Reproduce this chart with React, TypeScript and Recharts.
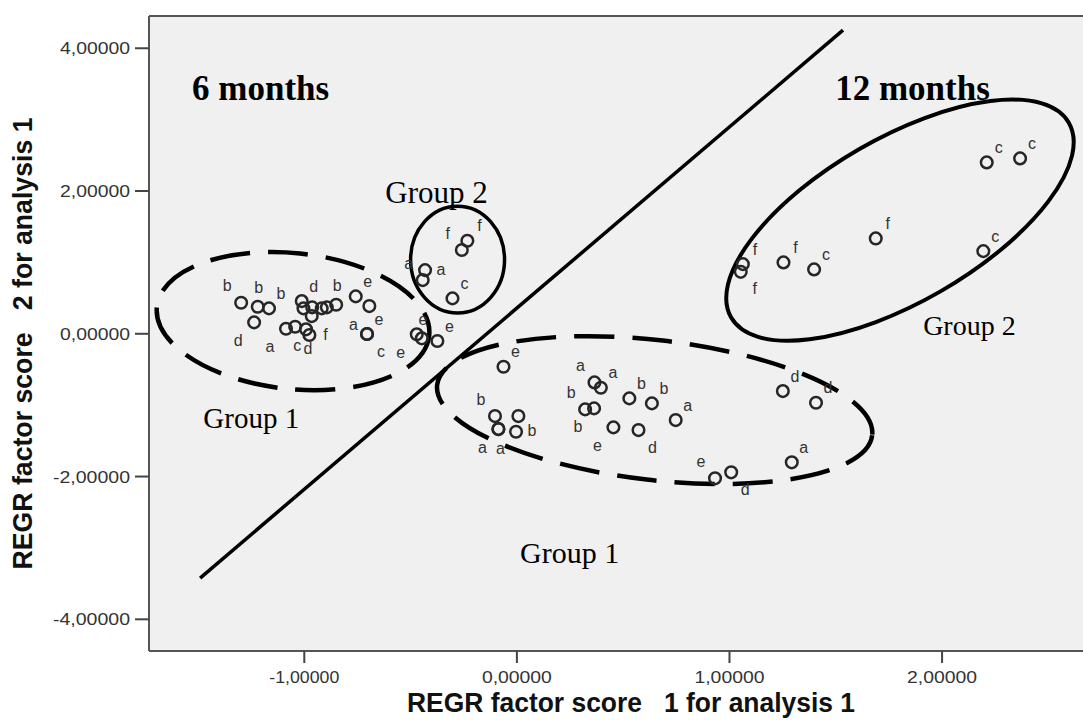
import React from 'react';
import {
  ScatterChart,
  Scatter,
  XAxis,
  YAxis,
  CartesianGrid,
  ReferenceLine,
  ReferenceArea,
  ReferenceDot,
} from 'recharts';

// Axis ranges and ticks (factor scores)
const X_DOMAIN: [number, number] = [-1.7305, 2.804];
const Y_DOMAIN: [number, number] = [-4.444, 4.452];
const X_TICKS = [-1, 0, 1, 2];
const Y_TICKS = [-4, -2, 0, 2, 4];

const X_TITLE = 'REGR factor score   1 for analysis 1';
const Y_TITLE = 'REGR factor score   2 for analysis 1';

// [score 1, score 2, case letter]
type Pt = [number, number, string];

const SIX_MONTHS_GROUP_1: Pt[] = [
  [-1.297, 0.434, 'b'],
  [-1.219, 0.378, 'b'],
  [-1.166, 0.356, 'b'],
  [-1.236, 0.16, 'd'],
  [-1.012, 0.458, 'd'],
  [-1.004, 0.356, ''],
  [-0.963, 0.37, ''],
  [-0.918, 0.356, ''],
  [-0.894, 0.37, ''],
  [-0.85, 0.406, 'b'],
  [-0.965, 0.248, ''],
  [-1.086, 0.07, 'a'],
  [-1.043, 0.098, 'c'],
  [-0.992, 0.062, 'd'],
  [-0.976, -0.018, 'f'],
  [-0.758, 0.524, 'e'],
  [-0.694, 0.388, 'a'],
  [-0.705, -0.004, 'e'],
  [-0.705, -0.004, 'c'],
  [-0.471, -0.008, 'e'],
  [-0.447, -0.064, 'e'],
  [-0.374, -0.102, 'e'],
];
const SIX_MONTHS_GROUP_1_TAGS = [
  'nw', 'n', 'ne', 'sw', 'ne', '', '', '', '', 'n', '', 'sw', 's', 's', 'e', 'ne', 'sw', 'ne', 'se', 'sw', 'n', 'ne',
];

const SIX_MONTHS_GROUP_2: Pt[] = [
  [-0.432, 0.892, 'a'],
  [-0.443, 0.752, 'a'],
  [-0.259, 1.173, 'f'],
  [-0.233, 1.303, 'f'],
  [-0.303, 0.496, 'c'],
];
const SIX_MONTHS_GROUP_2_TAGS = ['e', 'nw', 'nw', 'ne', 'ne'];

const TWELVE_MONTHS_GROUP_1: Pt[] = [
  [-0.063, -0.462, 'e'],
  [-0.103, -1.153, 'b'],
  [0.007, -1.153, ''],
  [-0.087, -1.335, 'a'],
  [-0.087, -1.335, 'a'],
  [-0.004, -1.373, 'b'],
  [0.365, -0.681, 'a'],
  [0.395, -0.756, 'a'],
  [0.321, -1.059, 'b'],
  [0.363, -1.045, 'b'],
  [0.529, -0.905, 'b'],
  [0.635, -0.975, 'b'],
  [0.454, -1.311, 'e'],
  [0.572, -1.349, 'd'],
  [0.747, -1.209, 'a'],
  [0.932, -2.025, 'e'],
  [1.008, -1.941, 'd'],
  [1.251, -0.803, 'd'],
  [1.407, -0.966, 'd'],
  [1.293, -1.801, 'a'],
];
const TWELVE_MONTHS_GROUP_1_TAGS = [
  'ne', 'nw', '', 'sw', 's', 'e', 'nw', 'ne', 'nw', 'sw', 'ne', 'ne', 'sw', 'se', 'ne', 'nw', 'se', 'ne', 'ne', 'ne',
];

const TWELVE_MONTHS_GROUP_2: Pt[] = [
  [1.063, 0.976, 'f'],
  [1.053, 0.868, 'f'],
  [1.254, 1.0, 'f'],
  [1.398, 0.902, 'c'],
  [1.688, 1.336, 'f'],
  [2.194, 1.158, 'c'],
  [2.21, 2.401, 'c'],
  [2.367, 2.457, 'c'],
];
const TWELVE_MONTHS_GROUP_2_TAGS = ['ne', 'se', 'ne', 'ne', 'ne', 'ne', 'ne', 'ne'];

// Separating line between the 6 and 12 month scores
const DIVIDER = [
  { x: -1.49, y: -3.422 },
  { x: 1.534, y: 4.254 },
];

// Group outlines: centre and half extents in score units, tilt in degrees
const RING_SIX_G1 = { cx: -1.053, cy: 0.178, hx: 0.644, hy: 0.952, tilt: 6 };
const RING_SIX_G2 = { cx: -0.279, cy: 1.039, hx: 0.221, hy: 0.749, tilt: 0 };
const RING_TWELVE_G1 = { cx: 0.648, cy: -1.069, hx: 1.03, hy: 0.98, tilt: 6.6 };
const RING_TWELVE_G2 = { cx: 1.802, cy: 1.592, hx: 0.917, hy: 1.148, tilt: -30 };

// Annotation texts, anchored at their left baseline
const NOTES = [
  { x: -1.528, y: 3.273, text: '6 months' },
  { x: 1.497, y: 3.273, text: '12 months' },
  { x: -0.619, y: 1.831, text: 'Group 2' },
  { x: -1.475, y: -1.321, text: 'Group 1' },
  { x: 0.015, y: -3.211, text: 'Group 1' },
  { x: 1.911, y: -0.018, text: 'Group 2' },
];
const NOTE_FONT = [
  { size: 35, bold: true },
  { size: 35, bold: true },
  { size: 31, bold: false },
  { size: 29, bold: false },
  { size: 30, bold: false },
  { size: 28, bold: false },
];

const SIDE_OFFSETS: Record<string, [number, number]> = {
  ne: [12, -15],
  n: [1, -19],
  nw: [-14, -17],
  e: [16, -1],
  se: [14, 17],
  s: [2, 19],
  sw: [-16, 18],
};

const toRows = (pts: Pt[], tags: string[]) =>
  pts.map(([x, y, id], i) => ({ x, y, id, tag: tags[i] }));

const fmt = (v: number) => v.toFixed(5).replace('.', ',');

const SANS = '"Liberation Sans", Arial, sans-serif';
const SERIF = '"Liberation Serif", "Times New Roman", serif';

const Marker = (props: any) => {
  const { cx, cy, payload } = props;
  if (cx == null || cy == null) return null;
  const off = payload && payload.id ? SIDE_OFFSETS[payload.tag] : undefined;
  return (
    <g>
      <circle cx={cx} cy={cy} r={5.8} fill="none" stroke="#262626" strokeWidth={2.5} />
      {off ? (
        <text
          x={cx + off[0]}
          y={cy + off[1]}
          textAnchor="middle"
          dominantBaseline="central"
          fontFamily={SANS}
          fontSize={16}
          fill="#333"
        >
          {payload.id}
        </text>
      ) : null}
    </g>
  );
};

const ringShape = (tilt: number, dashed: boolean, sw: number) => (props: any) => {
  const { x, y, width, height } = props;
  const cx = x + width / 2;
  const cy = y + height / 2;
  return (
    <ellipse
      cx={cx}
      cy={cy}
      rx={Math.abs(width) / 2}
      ry={Math.abs(height) / 2}
      transform={`rotate(${tilt} ${cx} ${cy})`}
      fill="none"
      stroke="#000"
      strokeWidth={sw}
      strokeDasharray={dashed ? '40 18' : undefined}
    />
  );
};

const noteShape = (text: string, size: number, bold: boolean) => (props: any) => (
  <text
    x={props.cx}
    y={props.cy}
    fontFamily={SERIF}
    fontWeight={bold ? 'bold' : 'normal'}
    fontSize={size}
    fill="#000"
  >
    {text}
  </text>
);

// Tick labels, slightly widened like the original export
const XTick = (props: any) => {
  const { x, y, payload } = props;
  return (
    <text
      x={x}
      y={y}
      dy="0.71em"
      textAnchor="middle"
      fontFamily={SANS}
      fontSize={17}
      textLength={70}
      lengthAdjust="spacingAndGlyphs"
      fill="#333"
    >
      {fmt(payload.value)}
    </text>
  );
};

const YTick = (props: any) => {
  const { x, y, payload } = props;
  const label = fmt(payload.value);
  return (
    <text
      x={x}
      y={y}
      dy="0.355em"
      textAnchor="end"
      fontFamily={SANS}
      fontSize={17}
      textLength={label.length > 7 ? 77 : 70}
      lengthAdjust="spacingAndGlyphs"
      fill="#333"
    >
      {label}
    </text>
  );
};

const XTitle = (props: any) => {
  const vb = props.viewBox || {};
  return (
    <text
      x={vb.x + vb.width / 2}
      y={vb.y + 61}
      textAnchor="middle"
      fontFamily={SANS}
      fontWeight="bold"
      fontSize={27}
      textLength={448}
      lengthAdjust="spacingAndGlyphs"
      style={{ whiteSpace: 'pre' }}
      fill="#111"
    >
      {X_TITLE}
    </text>
  );
};

const YTitle = (props: any) => {
  const vb = props.viewBox || {};
  const cx = 23;
  const cy = vb.y + vb.height / 2 + 10;
  return (
    <text
      x={cx}
      y={cy}
      transform={`rotate(-90 ${cx} ${cy})`}
      textAnchor="middle"
      dominantBaseline="central"
      fontFamily={SANS}
      fontWeight="bold"
      fontSize={27}
      textLength={452}
      lengthAdjust="spacingAndGlyphs"
      style={{ whiteSpace: 'pre' }}
      fill="#111"
    >
      {Y_TITLE}
    </text>
  );
};

const rings = [
  { r: RING_SIX_G1, dashed: true, sw: 4.5 },
  { r: RING_SIX_G2, dashed: false, sw: 3.5 },
  { r: RING_TWELVE_G1, dashed: true, sw: 4.5 },
  { r: RING_TWELVE_G2, dashed: false, sw: 4 },
];

export default function App() {
  return (
    <div
      style={{
        position: 'absolute',
        left: 0,
        top: 0,
        width: 1083,
        height: 720,
        overflow: 'hidden',
        background: '#fff',
      }}
    >
      <ScatterChart width={1113} height={720} margin={{ top: 16, right: 0, bottom: 0, left: 0 }}>
        <CartesianGrid fill="#f0f0f0" stroke="none" horizontal={false} vertical={false} />
        <XAxis
          type="number"
          dataKey="x"
          domain={X_DOMAIN}
          ticks={X_TICKS}
          allowDataOverflow
          height={69}
          tickFormatter={fmt}
          tickSize={12}
          tickMargin={8}
          axisLine={{ stroke: '#555', strokeWidth: 2 }}
          tickLine={{ stroke: '#444', strokeWidth: 2 }}
          tick={XTick}
          label={XTitle}
        />
        <YAxis
          type="number"
          dataKey="y"
          domain={Y_DOMAIN}
          ticks={Y_TICKS}
          allowDataOverflow
          width={149}
          tickFormatter={fmt}
          tickSize={14}
          tickMargin={5}
          axisLine={{ stroke: '#555', strokeWidth: 2 }}
          tickLine={{ stroke: '#444', strokeWidth: 2 }}
          tick={YTick}
          label={YTitle}
        />
        <ReferenceLine y={Y_DOMAIN[1]} stroke="#555" strokeWidth={2} ifOverflow="visible" />
        <Scatter data={toRows(SIX_MONTHS_GROUP_1, SIX_MONTHS_GROUP_1_TAGS)} shape={Marker} isAnimationActive={false} />
        <Scatter data={toRows(SIX_MONTHS_GROUP_2, SIX_MONTHS_GROUP_2_TAGS)} shape={Marker} isAnimationActive={false} />
        <Scatter data={toRows(TWELVE_MONTHS_GROUP_1, TWELVE_MONTHS_GROUP_1_TAGS)} shape={Marker} isAnimationActive={false} />
        <Scatter data={toRows(TWELVE_MONTHS_GROUP_2, TWELVE_MONTHS_GROUP_2_TAGS)} shape={Marker} isAnimationActive={false} />
        {rings.map(({ r, dashed, sw }, i) => (
          <ReferenceArea
            key={`ring-${i}`}
            x1={r.cx - r.hx}
            x2={r.cx + r.hx}
            y1={r.cy - r.hy}
            y2={r.cy + r.hy}
            ifOverflow="visible"
            shape={ringShape(r.tilt, dashed, sw)}
          />
        ))}
        <ReferenceLine segment={DIVIDER} stroke="#000" strokeWidth={3.5} ifOverflow="visible" />
        {NOTES.map((n, i) => (
          <ReferenceDot
            key={`note-${i}`}
            x={n.x}
            y={n.y}
            r={0}
            ifOverflow="visible"
            shape={noteShape(n.text, NOTE_FONT[i].size, NOTE_FONT[i].bold)}
          />
        ))}
      </ScatterChart>
    </div>
  );
}
